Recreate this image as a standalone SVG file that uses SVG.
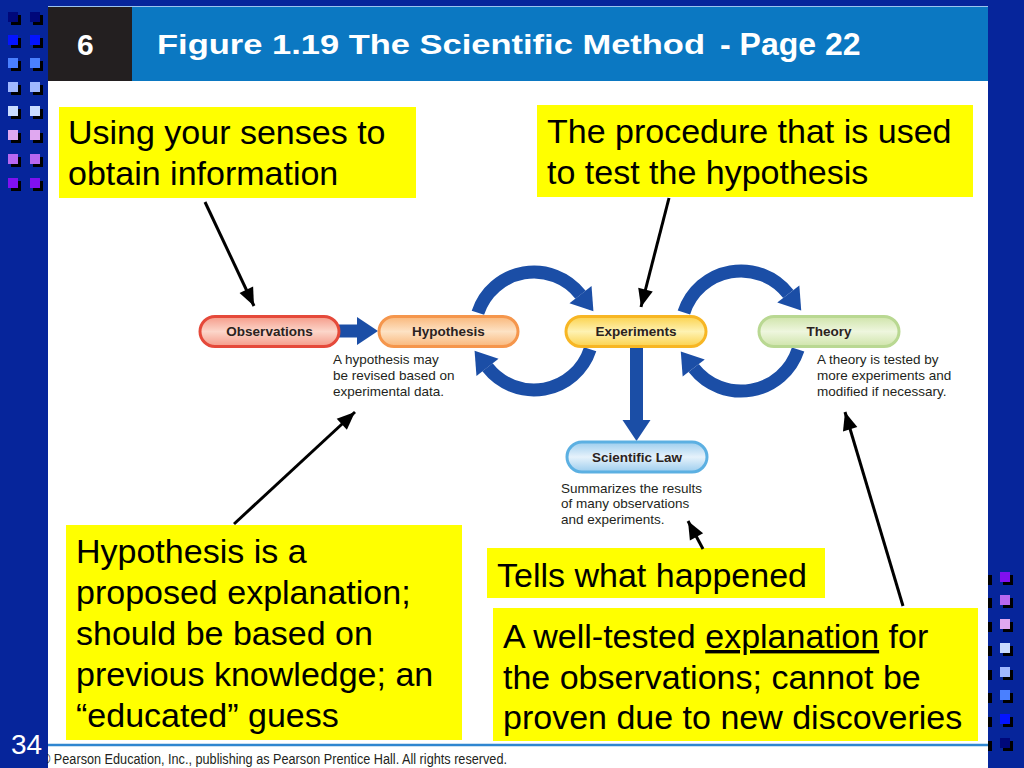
<svg xmlns="http://www.w3.org/2000/svg" width="1024" height="768" viewBox="0 0 1024 768">
<style>
.sq{stroke:none}
.sh{fill:#000}
.yb{fill:#ffff00}
.call{font-family:"Liberation Sans",Arial,sans-serif;font-size:34px;fill:#000}
.lbl{font-family:"Liberation Sans",Arial,sans-serif;font-size:13.5px;font-weight:bold;fill:#2b2220;text-anchor:middle}
.desc{font-family:"Liberation Sans",Arial,sans-serif;font-size:13.5px;fill:#231f20}
.pill{stroke-width:3}
.blue{fill:none;stroke:#1b4ea6;stroke-width:13}
.blk{fill:none;stroke:#000;stroke-width:3}
</style>
<defs>
<marker id="bh" markerUnits="userSpaceOnUse" markerWidth="24" markerHeight="32" viewBox="0 -16 24 32" refX="0" refY="0" orient="auto" overflow="visible">
<path d="M0,-14 L21,0 L0,14 z" fill="#1b4ea6"/>
</marker>
<marker id="kh" markerUnits="userSpaceOnUse" markerWidth="20" markerHeight="18" viewBox="0 -9 20 18" refX="18" refY="0" orient="auto" overflow="visible">
<path d="M0,-7.5 L18,0 L0,7.5 z" fill="#000"/>
</marker>
<linearGradient id="gObs" x1="0" y1="0" x2="0" y2="1"><stop offset="0" stop-color="#f59a88"/><stop offset="0.5" stop-color="#fcd6ca"/><stop offset="1" stop-color="#f59a88"/></linearGradient>
<linearGradient id="gHyp" x1="0" y1="0" x2="0" y2="1"><stop offset="0" stop-color="#f9b77a"/><stop offset="0.5" stop-color="#fde2c4"/><stop offset="1" stop-color="#f9b77a"/></linearGradient>
<linearGradient id="gExp" x1="0" y1="0" x2="0" y2="1"><stop offset="0" stop-color="#fbd24e"/><stop offset="0.5" stop-color="#fef2b2"/><stop offset="1" stop-color="#fbd24e"/></linearGradient>
<linearGradient id="gThe" x1="0" y1="0" x2="0" y2="1"><stop offset="0" stop-color="#cfe4aa"/><stop offset="0.5" stop-color="#eef6de"/><stop offset="1" stop-color="#cfe4aa"/></linearGradient>
<linearGradient id="gLaw" x1="0" y1="0" x2="0" y2="1"><stop offset="0" stop-color="#9ccdee"/><stop offset="0.5" stop-color="#e6f2fb"/><stop offset="1" stop-color="#9ccdee"/></linearGradient>
</defs>

<!-- slide background -->
<rect x="0" y="0" width="1024" height="768" fill="#06259b"/>

<!-- left decorative squares -->
<g id="left-squares">
<rect class="sh" x="11" y="15" width="10" height="10"/><rect class="sh" x="33" y="15" width="10" height="10"/>
<rect x="8" y="12" width="10" height="10" fill="#00087a"/><rect x="30" y="12" width="10" height="10" fill="#00087a"/>
<rect class="sh" x="11" y="38" width="10" height="10"/><rect class="sh" x="33" y="38" width="10" height="10"/>
<rect x="8" y="35" width="10" height="10" fill="#0414ff"/><rect x="30" y="35" width="10" height="10" fill="#0414ff"/>
<rect class="sh" x="11" y="61" width="10" height="10"/><rect class="sh" x="33" y="61" width="10" height="10"/>
<rect x="8" y="58" width="10" height="10" fill="#4a80ff"/><rect x="30" y="58" width="10" height="10" fill="#4a80ff"/>
<rect class="sh" x="11" y="85" width="10" height="10"/><rect class="sh" x="33" y="85" width="10" height="10"/>
<rect x="8" y="82" width="10" height="10" fill="#a0b8ff"/><rect x="30" y="82" width="10" height="10" fill="#a0b8ff"/>
<rect class="sh" x="11" y="109" width="10" height="10"/><rect class="sh" x="33" y="109" width="10" height="10"/>
<rect x="8" y="106" width="10" height="10" fill="#cadcff"/><rect x="30" y="106" width="10" height="10" fill="#cadcff"/>
<rect class="sh" x="11" y="133" width="10" height="10"/><rect class="sh" x="33" y="133" width="10" height="10"/>
<rect x="8" y="130" width="10" height="10" fill="#e0a8f0"/><rect x="30" y="130" width="10" height="10" fill="#e0a8f0"/>
<rect class="sh" x="11" y="157" width="10" height="10"/><rect class="sh" x="33" y="157" width="10" height="10"/>
<rect x="8" y="154" width="10" height="10" fill="#b868f0"/><rect x="30" y="154" width="10" height="10" fill="#b868f0"/>
<rect class="sh" x="11" y="181" width="10" height="10"/><rect class="sh" x="33" y="181" width="10" height="10"/>
<rect x="8" y="178" width="10" height="10" fill="#8010f0"/><rect x="30" y="178" width="10" height="10" fill="#8010f0"/>
</g>

<!-- right decorative squares -->
<g id="right-squares">
<rect class="sh" x="988" y="575" width="4" height="10"/><rect class="sh" x="1003" y="575" width="10" height="10"/><rect x="1000" y="572" width="10" height="10" fill="#8010f0"/>
<rect class="sh" x="988" y="598" width="4" height="10"/><rect class="sh" x="1003" y="598" width="10" height="10"/><rect x="1000" y="595" width="10" height="10" fill="#b868f0"/>
<rect class="sh" x="988" y="622" width="4" height="10"/><rect class="sh" x="1003" y="622" width="10" height="10"/><rect x="1000" y="619" width="10" height="10" fill="#e0a8f0"/>
<rect class="sh" x="988" y="646" width="4" height="10"/><rect class="sh" x="1003" y="646" width="10" height="10"/><rect x="1000" y="643" width="10" height="10" fill="#cadcff"/>
<rect class="sh" x="988" y="670" width="4" height="10"/><rect class="sh" x="1003" y="670" width="10" height="10"/><rect x="1000" y="667" width="10" height="10" fill="#a0b8ff"/>
<rect class="sh" x="988" y="693" width="4" height="10"/><rect class="sh" x="1003" y="693" width="10" height="10"/><rect x="1000" y="690" width="10" height="10" fill="#4a80ff"/>
<rect class="sh" x="988" y="717" width="4" height="10"/><rect class="sh" x="1003" y="717" width="10" height="10"/><rect x="1000" y="714" width="10" height="10" fill="#0414ff"/>
<rect class="sh" x="988" y="741" width="4" height="10"/><rect class="sh" x="1003" y="741" width="10" height="10"/><rect x="1000" y="738" width="10" height="10" fill="#00087a"/>
</g>

<!-- white content panel -->
<rect x="48" y="6" width="940" height="762" fill="#ffffff"/>
<line x1="48" y1="6.5" x2="988" y2="6.5" stroke="#9cc4ee" stroke-width="1"/>

<!-- header -->
<g id="header">
<rect x="48" y="7" width="84" height="74" fill="#231f20"/>
<rect x="132" y="7" width="856" height="74" fill="#0b78c2"/>
<text x="77" y="55" font-family="Liberation Sans, Arial, sans-serif" font-size="30" font-weight="bold" fill="#ffffff">6</text>
<text x="157" y="54" font-family="Liberation Sans, Arial, sans-serif" font-size="28" font-weight="bold" fill="#ffffff" textLength="548" lengthAdjust="spacingAndGlyphs">Figure 1.19 The Scientific Method</text>
<text x="720" y="55" font-family="Liberation Sans, Arial, sans-serif" font-size="32" font-weight="bold" fill="#ffffff">- Page 22</text>
</g>

<!-- callout boxes -->
<g id="note-observe">
<rect class="yb" x="59" y="107" width="357" height="91"/>
<text class="call" x="68" y="144">Using your senses to</text>
<text class="call" x="68" y="185">obtain information</text>
</g>
<g id="note-procedure">
<rect class="yb" x="537" y="105" width="436" height="92"/>
<text class="call" x="547" y="143">The procedure that is used</text>
<text class="call" x="547" y="184">to test the hypothesis</text>
</g>
<g id="note-hypothesis">
<rect class="yb" x="66" y="525" width="396" height="215"/>
<text class="call" x="76" y="563">Hypothesis is a</text>
<text class="call" x="76" y="604">proposed explanation;</text>
<text class="call" x="76" y="645">should be based on</text>
<text class="call" x="76" y="686">previous knowledge; an</text>
<text class="call" x="76" y="727">“educated” guess</text>
</g>
<g id="note-law">
<rect class="yb" x="487" y="548" width="338" height="50"/>
<text class="call" x="497" y="587">Tells what happened</text>
</g>
<g id="note-theory">
<rect class="yb" x="493" y="608" width="485" height="133"/>
<text class="call" x="503" y="648">A well-tested <tspan style="text-decoration:underline">explanation</tspan> for</text>
<text class="call" x="503" y="689">the observations; cannot be</text>
<text class="call" x="503" y="729">proven due to new discoveries</text>
</g>

<!-- connectors -->
<g id="connectors">
<line class="blue" x1="339" y1="331" x2="357" y2="331" stroke-width="15" marker-end="url(#bh)"/>
<path class="blue" d="M477.9,312.8 A59,59 0 0 1 580.5,294.7" marker-end="url(#bh)"/>
<path class="blue" d="M590.1,349.2 A59,59 0 0 1 487.5,367.3" marker-end="url(#bh)"/>
<path class="blue" d="M683.9,312.5 A60,60 0 0 1 788.3,294" marker-end="url(#bh)"/>
<path class="blue" d="M798.1,349.5 A60,60 0 0 1 693.7,368" marker-end="url(#bh)"/>
<line class="blue" x1="636.5" y1="346" x2="636.5" y2="420" marker-end="url(#bh)"/>
<line class="blk" x1="205" y1="202" x2="254" y2="306" marker-end="url(#kh)"/>
<line class="blk" x1="669" y1="198" x2="641" y2="307" marker-end="url(#kh)"/>
<line class="blk" x1="234" y1="524" x2="355" y2="412" marker-end="url(#kh)"/>
<line class="blk" x1="703" y1="549" x2="688" y2="521" marker-end="url(#kh)"/>
<line class="blk" x1="903" y1="606" x2="845" y2="412" marker-end="url(#kh)"/>
</g>

<!-- figure nodes -->
<g id="observations">
<rect class="pill" x="200" y="316.5" width="139" height="30" rx="15" fill="url(#gObs)" stroke="#e5493a"/>
<text class="lbl" x="269.5" y="336">Observations</text>
</g>
<g id="hypothesis">
<rect class="pill" x="379" y="316.5" width="139" height="30" rx="15" fill="url(#gHyp)" stroke="#f5964c"/>
<text class="lbl" x="448.5" y="336">Hypothesis</text>
<text class="desc" x="333" y="364">A hypothesis may</text>
<text class="desc" x="333" y="380">be revised based on</text>
<text class="desc" x="333" y="396">experimental data.</text>
</g>
<g id="experiments">
<rect class="pill" x="566" y="316.5" width="140" height="30" rx="15" fill="url(#gExp)" stroke="#f7b624"/>
<text class="lbl" x="636" y="336">Experiments</text>
</g>
<g id="theory">
<rect class="pill" x="759" y="316.5" width="140" height="30" rx="15" fill="url(#gThe)" stroke="#b9d892"/>
<text class="lbl" x="829" y="336">Theory</text>
<text class="desc" x="817" y="364">A theory is tested by</text>
<text class="desc" x="817" y="380">more experiments and</text>
<text class="desc" x="817" y="396">modified if necessary.</text>
</g>
<g id="scientific-law">
<rect class="pill" x="567" y="442" width="140" height="30" rx="15" fill="url(#gLaw)" stroke="#5cb0e2"/>
<text class="lbl" x="637" y="461.5">Scientific Law</text>
<text class="desc" x="561" y="493">Summarizes the results</text>
<text class="desc" x="561" y="508">of many observations</text>
<text class="desc" x="561" y="524">and experiments.</text>
</g>

<!-- footer -->
<g id="footer">
<line x1="48" y1="745" x2="988" y2="745" stroke="#2f86d0" stroke-width="2.5"/>
<text x="41" y="764" font-family="Liberation Sans, Arial, sans-serif" font-size="14" fill="#231f20" textLength="466" lengthAdjust="spacingAndGlyphs">© Pearson Education, Inc., publishing as Pearson Prentice Hall. All rights reserved.</text>
<rect x="0" y="700" width="47" height="68" fill="#06259b"/>
<text x="11" y="754" font-family="Liberation Sans, Arial, sans-serif" font-size="28" fill="#ffffff">34</text>
</g>
</svg>
